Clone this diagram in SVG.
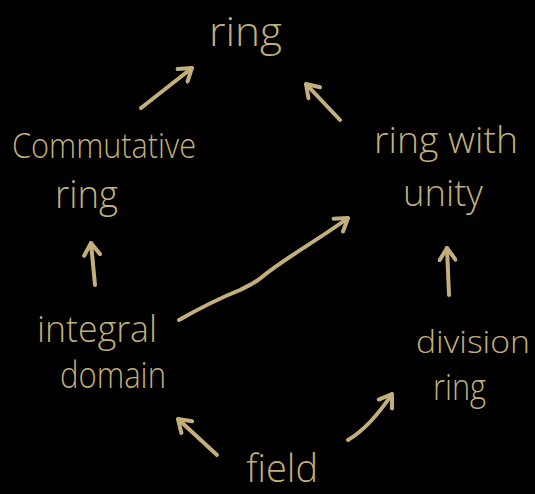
<svg xmlns="http://www.w3.org/2000/svg" width="535" height="494" viewBox="0 0 535 494">
<defs>
<style>
.t{fill:#C2AF7B;font-family:"Open Sans","Liberation Sans",sans-serif;font-weight:300;}
.c{fill:none;stroke:#C2AF7B;stroke-width:4;stroke-linecap:round;stroke-linejoin:round;}
</style>
<marker id="ah" viewBox="-14 -10 16 20" markerWidth="16" markerHeight="20" refX="0" refY="0" orient="auto" markerUnits="userSpaceOnUse">
<path d="M-12,-8 L0,0 L-12,8" fill="none" stroke="#C2AF7B" stroke-width="4" stroke-linecap="round" stroke-linejoin="round"/>
</marker>
</defs>
<rect width="535" height="494" fill="#000"/>
<g id="ring"><text class="t" x="209" y="46" font-size="40" textLength="73" lengthAdjust="spacingAndGlyphs">ring</text></g>
<g id="commutative-ring"><text class="t" x="12" y="158" font-size="34" textLength="184" lengthAdjust="spacingAndGlyphs">Commutative</text><text class="t" x="55" y="208" font-size="38" textLength="63" lengthAdjust="spacingAndGlyphs">ring</text></g>
<g id="ring-with-unity"><text class="t" x="374" y="153" font-size="36" textLength="144" lengthAdjust="spacingAndGlyphs">ring with</text><text class="t" x="403" y="206" font-size="36" textLength="80" lengthAdjust="spacingAndGlyphs">unity</text></g>
<g id="integral-domain"><text class="t" x="37" y="342" font-size="36" textLength="120" lengthAdjust="spacingAndGlyphs">integral</text><text class="t" x="60" y="388" font-size="36" textLength="106" lengthAdjust="spacingAndGlyphs">domain</text></g>
<g id="division-ring"><text class="t" x="416" y="353" font-size="32" textLength="114" lengthAdjust="spacingAndGlyphs">division</text><text class="t" x="433" y="400" font-size="36" textLength="53" lengthAdjust="spacingAndGlyphs">ring</text></g>
<g id="field"><text class="t" x="246" y="482" font-size="38" textLength="72" lengthAdjust="spacingAndGlyphs">field</text></g>
<g id="connectors">
<path class="c" d="M141,108 L192,68" marker-end="url(#ah)"/>
<path class="c" d="M340,120 L306,84" marker-end="url(#ah)"/>
<path class="c" d="M95,285 L91,243" marker-end="url(#ah)"/>
<path class="c" d="M449,295 L447,248" marker-end="url(#ah)"/>
<path class="c" d="M179,320 C200,308 225,296 240,290 C250,285 255,283 262,277 C285,258 318,240 348,218" marker-end="url(#ah)"/>
<path class="c" d="M217,455 L178,419" marker-end="url(#ah)"/>
<path class="c" d="M348,440 C365,430 380,412 392,394" marker-end="url(#ah)"/>
</g>
</svg>
